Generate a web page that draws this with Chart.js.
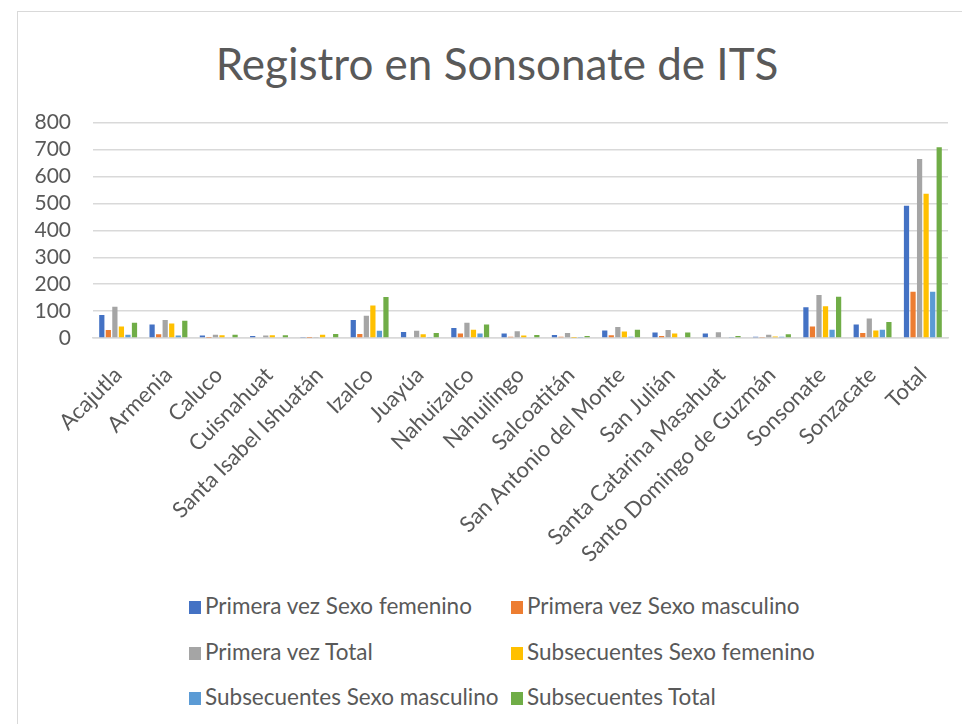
<!DOCTYPE html>
<html>
<head>
<meta charset="utf-8">
<script src="https://cdn.jsdelivr.net/npm/chart.js@4"></script>
<style>
    body { margin: 0; background: #fff; }
    .frame { position: absolute; left: 17px; top: 11px; width: 1000px; height: 800px; border: 1.5px solid #d9d9d9; }
    .wrap { position: absolute; left: 0; top: 0; width: 962px; height: 580px; }
    .title { position: absolute; left: 197px; width: 600px; top: 36px; text-align: center; font-family: Lato, sans-serif; font-size: 44px; line-height: 54px; color: #595959; }
    .legend-item { position: absolute; font-family: Lato, sans-serif; font-size: 22.5px; color: #595959; white-space: nowrap; line-height: 24px; }
    .legend-item span { display: inline-block; width: 12px; height: 13px; margin-right: 4px; vertical-align: 0px; }
</style>
</head>
<body>
<div class="frame"></div>
<div class="title">Registro en Sonsonate de ITS</div>
<div class="wrap"><canvas id="itsChart"></canvas></div>
<div id="legend"></div>
<script>
const categories = ['Acajutla', 'Armenia', 'Caluco', 'Cuisnahuat', 'Santa Isabel Ishuatán', 'Izalco', 'Juayúa',
    'Nahuizalco', 'Nahuilingo', 'Salcoatitán', 'San Antonio del Monte', 'San Julián', 'Santa Catarina Masahuat',
    'Santo Domingo de Guzmán', 'Sonsonate', 'Sonzacate', 'Total'];

const primeraFem = [85, 50, 9, 7, 4, 67, 22, 37, 17, 11, 28, 20, 17, 5, 114, 50, 491];
const primeraMasc = [30, 14, 1, 0, 1, 15, 3, 17, 5, 5, 10, 7, 0, 4, 43, 19, 172];
const primeraTotal = [116, 67, 12, 9, 4, 83, 27, 57, 25, 19, 41, 30, 21, 12, 160, 72, 665];
const subFem = [43, 54, 10, 10, 12, 121, 14, 31, 9, 1, 24, 17, 0, 6, 118, 28, 536];
const subMasc = [12, 9, 0, 0, 0, 27, 4, 17, 0, 4, 5, 0, 4, 5, 31, 31, 172];
const subTotal = [57, 64, 12, 10, 15, 152, 19, 50, 11, 7, 31, 20, 7, 14, 153, 59, 709];

const seriesNames = ['Primera vez Sexo femenino', 'Primera vez Sexo masculino', 'Primera vez Total',
    'Subsecuentes Sexo femenino', 'Subsecuentes Sexo masculino', 'Subsecuentes Total'];
const seriesData = [primeraFem, primeraMasc, primeraTotal, subFem, subMasc, subTotal];
const seriesColors = ['#4472C4', '#ED7D31', '#A5A5A5', '#FFC000', '#5B9BD5', '#70AD47'];

const yTicks = [0, 100, 200, 300, 400, 500, 600, 700, 800];

document.addEventListener('DOMContentLoaded', function () {
    const datasets = seriesNames.map(function (name, i) {
        return {
            label: name,
            data: seriesData[i],
            backgroundColor: seriesColors[i],
            barPercentage: 0.8,
            categoryPercentage: 0.78
        };
    });

    new Chart(document.getElementById('itsChart'), {
        type: 'bar',
        data: { labels: categories, datasets: datasets },
        options: {
            responsive: true,
            maintainAspectRatio: false,
            animation: false,
            layout: { padding: { top: 122.7, left: 17, right: 14, bottom: 0 } },
            plugins: {
                legend: { display: false },
                tooltip: { enabled: false }
            },
            scales: {
                x: {
                    grid: { display: false },
                    border: { color: '#d9d9d9', width: 1.5 },
                    ticks: {
                        color: '#595959',
                        font: { family: 'Lato', size: 22 },
                        maxRotation: 45,
                        minRotation: 45,
                        autoSkip: false,
                        padding: 16
                    },
                    afterFit: function (scale) { scale.height = 580 - 338; }
                },
                y: {
                    min: 0,
                    max: yTicks[yTicks.length - 1],
                    border: { display: false },
                    grid: { color: '#d9d9d9', lineWidth: 1.5, drawTicks: false },
                    ticks: {
                        autoSkip: false,
                        color: '#595959',
                        font: { family: 'Lato', size: 21 },
                        padding: 22
                    },
                    afterBuildTicks: function (scale) {
                        scale.ticks = yTicks.map(function (v) { return { value: v }; });
                    },
                    afterFit: function (scale) { scale.width = 93 - 17; }
                }
            }
        }
    });

    // legend in two columns like the original
    const legend = document.getElementById('legend');
    const colX = [189, 511];
    const rowY = [594, 640, 685];
    seriesNames.forEach(function (name, i) {
        const item = document.createElement('div');
        item.className = 'legend-item';
        item.style.left = colX[i % 2] + 'px';
        item.style.top = rowY[Math.floor(i / 2)] + 'px';
        item.innerHTML = '<span style="background:' + seriesColors[i] + '"></span>' + name;
        legend.appendChild(item);
    });
});
</script>
</body>
</html>
